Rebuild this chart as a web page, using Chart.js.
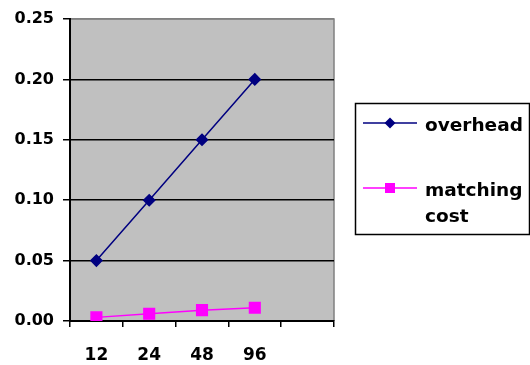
<!DOCTYPE html>
<html>
<head>
<meta charset="UTF-8">
<title>overhead / matching cost</title>
<script src="https://cdn.jsdelivr.net/npm/chart.js"></script>
<style>
  html, body { margin: 0; padding: 0; background: #fff; }
</style>
</head>
<body>
<canvas id="grafica" width="530" height="365"></canvas>
<script>
// datos
const categorias = ['12', '24', '48', '96', ''];
const overhead = [0.05, 0.10, 0.15, 0.20, null];
const matchingCost = [0.003, 0.006, 0.009, 0.011, null];
const yMin = 0, yMax = 0.25, yStep = 0.05;

const FUENTE = 'DejaVu Sans';

// fondo gris del area de trazado
const fondo = {
  id: 'fondo',
  beforeDraw(chart) {
    const { ctx, chartArea: a } = chart;
    ctx.save();
    ctx.fillStyle = '#C0C0C0';
    ctx.fillRect(a.left, a.top, a.right - a.left, a.bottom - a.top);
    ctx.strokeStyle = '#808080';
    ctx.lineWidth = 1.5;
    ctx.beginPath();
    ctx.moveTo(a.left, a.top);
    ctx.lineTo(a.right, a.top);
    ctx.lineTo(a.right, a.bottom);
    ctx.stroke();
    ctx.restore();
  }
};

// leyenda con recuadro, a la derecha
const leyenda = {
  id: 'leyenda',
  afterDraw(chart) {
    const ctx = chart.ctx;
    const x0 = 355, y0 = 103, w = 174, h = 131;
    ctx.save();
    ctx.strokeStyle = '#000';
    ctx.lineWidth = 1.5;
    ctx.strokeRect(x0 + 0.5, y0 + 0.5, w, h);
    ctx.font = 'bold 18.5px ' + FUENTE;
    ctx.textBaseline = 'alphabetic';
    const filas = [123, 188];
    chart.data.datasets.forEach((ds, i) => {
      const y = filas[i];
      ctx.strokeStyle = ds.borderColor;
      ctx.lineWidth = 1.5;
      ctx.beginPath();
      ctx.moveTo(363, y);
      ctx.lineTo(417, y);
      ctx.stroke();
      ctx.fillStyle = ds.pointBackgroundColor;
      const cx = 390;
      if (ds.pointStyle === 'rectRot') {
        ctx.beginPath();
        ctx.moveTo(cx, y - 5.5);
        ctx.lineTo(cx + 5.5, y);
        ctx.lineTo(cx, y + 5.5);
        ctx.lineTo(cx - 5.5, y);
        ctx.closePath();
        ctx.fill();
      } else {
        ctx.fillRect(cx - 5, y - 5, 10, 10);
      }
      // partir el texto en lineas
      const palabras = ds.label.split(' ');
      const lineas = [];
      let actual = '';
      palabras.forEach(p => {
        const prueba = actual ? actual + ' ' + p : p;
        if (actual && ctx.measureText(prueba).width > 100) {
          lineas.push(actual);
          actual = p;
        } else {
          actual = prueba;
        }
      });
      lineas.push(actual);
      ctx.fillStyle = '#000';
      lineas.forEach((l, j) => ctx.fillText(l, 425, y + 8 + j * 26));
    });
    ctx.restore();
  }
};

const ctx = document.getElementById('grafica').getContext('2d');
const chart = new Chart(ctx, {
  type: 'line',
  data: {
    labels: categorias,
    datasets: [{
      label: 'overhead',
      data: overhead,
      borderColor: '#000080',
      backgroundColor: '#000080',
      pointBackgroundColor: '#000080',
      pointBorderColor: '#000080',
      pointStyle: 'rectRot',
      pointRadius: 5.5,
      borderWidth: 1.5,
      tension: 0
    }, {
      label: 'matching cost',
      data: matchingCost,
      borderColor: '#FF00FF',
      backgroundColor: '#FF00FF',
      pointBackgroundColor: '#FF00FF',
      pointBorderColor: '#FF00FF',
      pointStyle: 'rect',
      pointRadius: 7.5,
      borderWidth: 1.5,
      tension: 0
    }]
  },
  options: {
    responsive: false,
    animation: false,
    layout: { padding: { top: 19, right: 196, left: 0, bottom: 0 } },
    plugins: {
      legend: { display: false },
      tooltip: { enabled: false }
    },
    scales: {
      x: {
        offset: true,
        grid: {
          offset: true,
          drawOnChartArea: false,
          drawTicks: true,
          tickLength: 6,
          color: '#000',
          lineWidth: 1.5
        },
        border: { color: '#000', width: 2 },
        ticks: {
          color: '#000',
          font: { family: FUENTE, size: 17, weight: 'bold' },
          padding: 18,
          maxRotation: 0,
          autoSkip: false
        },
        afterFit(s) { s.height = 44; }
      },
      y: {
        min: yMin,
        max: yMax,
        grid: {
          color: c => (c.tick && c.tick.value === yMax) ? '#808080' : '#000',
          tickColor: '#000',
          tickLength: 7,
          lineWidth: 1.5
        },
        border: { color: '#000', width: 2 },
        ticks: {
          stepSize: yStep,
          color: '#000',
          font: { family: FUENTE, size: 16, weight: 'bold' },
          padding: 9,
          callback: v => v.toFixed(2)
        },
        afterFit(s) { s.width = 70; }
      }
    }
  },
  plugins: [fondo, leyenda]
});
</script>
</body>
</html>
